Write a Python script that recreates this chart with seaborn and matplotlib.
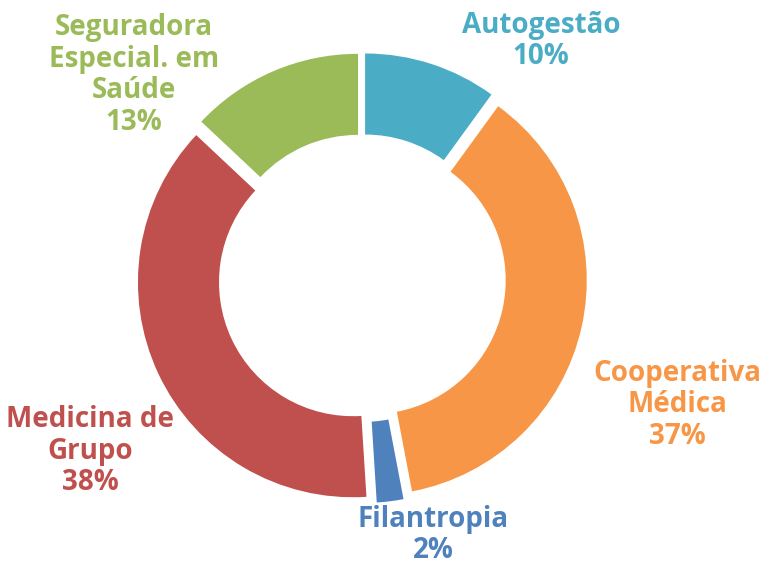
import matplotlib.pyplot as plt
import seaborn as sns

sns.set_theme(style="white")
plt.rcParams["font.family"] = ["Open Sans", "DejaVu Sans"]

categories = ["Autogestão", "Cooperativa\nMédica", "Filantropia", "Medicina de\nGrupo", "Seguradora\nEspecial. em\nSaúde"]
shares = [10, 37, 2, 38, 13]
colors = ["#4BACC6", "#F79646", "#4F81BD", "#C0504D", "#9BBB59"]

# label anchor points in pixel space (y measured from top)
label_pos = [(541, 41), (677, 405), (433, 535), (90, 451), (134, 75)]

W, H = 762, 566
fig = plt.figure(figsize=(W / 100, H / 100), dpi=100)
ax = fig.add_axes([0, 0, 1, 1])

cx, cy, r = 362, H - 278, 215
# explode is in data units here (pixels), gives the parallel white gaps
ax.pie(shares, colors=colors, startangle=90, counterclock=False,
       center=(cx, cy), radius=r, explode=[10] * len(shares),
       wedgeprops=dict(width=r * 0.377, edgecolor="none"))

for name, val, col, (x, y) in zip(categories, shares, colors, label_pos):
    ax.text(x, H - y, f"{name}\n{val}%", color=col, ha="center", va="center",
            fontsize=20, fontweight="bold", linespacing=1.13)

ax.set_xlim(0, W)
ax.set_ylim(0, H)
ax.set_aspect("equal")
ax.axis("off")

fig.savefig("out.png", dpi=100)
